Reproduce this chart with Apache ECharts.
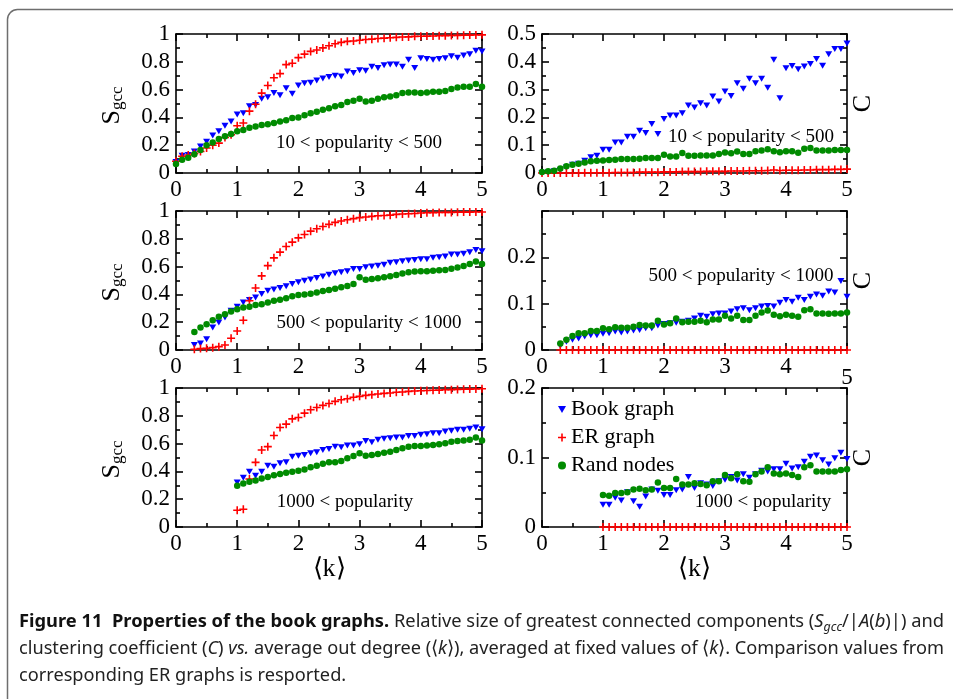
<!DOCTYPE html>
<html>
<head>
<meta charset="utf-8">
<script src="https://cdn.jsdelivr.net/npm/echarts@6/dist/echarts.min.js"></script>
<style>
  html, body { margin: 0; padding: 0; background: #ffffff; }
  #chart { width: 953px; height: 699px; }
</style>
</head>
<body>
<div id="chart"></div>
<script>
// ---- average out degree <k> grids ----
const kFrom0 = [0,0.1,0.2,0.3,0.4,0.5,0.6,0.7,0.8,0.9,1,1.1,1.2,1.3,1.4,1.5,1.6,1.7,1.8,1.9,2,2.1,2.2,2.3,2.4,2.5,2.6,2.7,2.8,2.9,3,3.1,3.2,3.3,3.4,3.5,3.6,3.7,3.8,3.9,4,4.1,4.2,4.3,4.4,4.5,4.6,4.7,4.8,4.9,5];
const kFrom03 = [0.3,0.4,0.5,0.6,0.7,0.8,0.9,1,1.1,1.2,1.3,1.4,1.5,1.6,1.7,1.8,1.9,2,2.1,2.2,2.3,2.4,2.5,2.6,2.7,2.8,2.9,3,3.1,3.2,3.3,3.4,3.5,3.6,3.7,3.8,3.9,4,4.1,4.2,4.3,4.4,4.5,4.6,4.7,4.8,4.9,5];
const kFrom1 = [1,1.1,1.2,1.3,1.4,1.5,1.6,1.7,1.8,1.9,2,2.1,2.2,2.3,2.4,2.5,2.6,2.7,2.8,2.9,3,3.1,3.2,3.3,3.4,3.5,3.6,3.7,3.8,3.9,4,4.1,4.2,4.3,4.4,4.5,4.6,4.7,4.8,4.9,5];

// ---- 10 < popularity < 500 ----
const s1Book = [0.08,0.125,0.13,0.155,0.19,0.225,0.27,0.30,0.34,0.37, 0.42,0.43,0.48,0.49,0.535,0.545,0.575,0.56,0.61,0.57, 0.63,0.645,0.65,0.665,0.68,0.69,0.70,0.695,0.73,0.72, 0.74,0.735,0.765,0.755,0.775,0.78,0.78,0.765,0.815,0.755, 0.825,0.82,0.815,0.82,0.825,0.84,0.83,0.845,0.855,0.88,0.875];
const s1ER = [0.084,0.12,0.13,0.14,0.155,0.18,0.20,0.215,0.255,0.275, 0.34,0.36,0.445,0.495,0.575,0.63,0.685,0.715,0.78,0.79, 0.83,0.855,0.875,0.885,0.90,0.915,0.93,0.94,0.947,0.95, 0.955,0.96,0.963,0.968,0.97,0.973,0.976,0.978,0.979,0.983, 0.984,0.985,0.986,0.987,0.988,0.989,0.99,0.991,0.992,0.993,0.994];
const s1Rand = [0.065,0.095,0.11,0.135,0.165,0.20,0.22,0.245,0.265,0.28, 0.30,0.31,0.325,0.335,0.345,0.35,0.36,0.37,0.38,0.395, 0.40,0.415,0.43,0.44,0.455,0.465,0.48,0.49,0.51,0.52, 0.535,0.515,0.52,0.535,0.545,0.55,0.56,0.575,0.58,0.58, 0.575,0.58,0.585,0.585,0.59,0.605,0.615,0.62,0.62,0.64,0.62];
const c1Book = [0,0.002,0.006,0.01,0.02,0.03,0.033,0.044,0.057,0.062, 0.084,0.084,0.11,0.11,0.13,0.13,0.152,0.144,0.176,0.14, 0.194,0.207,0.207,0.215,0.243,0.236,0.251,0.243,0.275,0.257, 0.293,0.277,0.323,0.303,0.339,0.323,0.339,0.307,0.407,0.269, 0.377,0.385,0.373,0.383,0.392,0.41,0.386,0.427,0.446,0.446,0.466];
const c1ER = [0,0,0,0,0,0,0,0.001,0.001,0.001, 0.001,0.001,0.002,0.002,0.002,0.002,0.003,0.003,0.003,0.003, 0.004,0.004,0.004,0.005,0.005,0.005,0.005,0.006,0.006,0.006, 0.006,0.007,0.007,0.007,0.008,0.008,0.008,0.009,0.011,0.009, 0.01,0.01,0.01,0.011,0.011,0.012,0.012,0.012,0.013,0.013,0.014];
const c1Rand = [0.004,0.006,0.008,0.016,0.024,0.03,0.033,0.038,0.042,0.044, 0.045,0.047,0.048,0.05,0.05,0.05,0.051,0.054,0.054,0.054, 0.066,0.059,0.059,0.072,0.062,0.062,0.063,0.063,0.063,0.068, 0.074,0.071,0.077,0.068,0.068,0.078,0.081,0.085,0.078,0.075, 0.078,0.078,0.073,0.087,0.09,0.081,0.081,0.081,0.083,0.083,0.083];

// ---- 500 < popularity < 1000 ----
const s2Book = [0.036,0.046,0.077,0.161,0.198,0.234,0.282, 0.311,0.342,0.359,0.378,0.402,0.427,0.436,0.446,0.458,0.475, 0.487,0.499,0.508,0.518,0.528,0.542,0.552,0.559,0.566,0.583, 0.583,0.595,0.6,0.607,0.614,0.627,0.631,0.639,0.643,0.648, 0.653,0.653,0.663,0.667,0.672,0.687,0.687,0.692,0.704,0.72, 0.711];
const s2ER = [0.005,0.01,0.012,0.017,0.024,0.036,0.084, 0.137,0.214,0.354,0.446,0.533,0.607,0.663,0.704,0.745,0.776, 0.807,0.831,0.855,0.872,0.889,0.904,0.918,0.928,0.937,0.945, 0.952,0.957,0.961,0.966,0.968,0.97,0.976,0.978,0.98,0.982, 0.986,0.987,0.988,0.989,0.99,0.99,0.991,0.992,0.992,0.993, 0.993];
const s2Rand = [0.13,0.161,0.186,0.214,0.239,0.258,0.277, 0.294,0.306,0.311,0.323,0.33,0.342,0.354,0.361,0.373,0.386, 0.395,0.40,0.405,0.414,0.425,0.431,0.44,0.452,0.46,0.475, 0.523,0.506,0.51,0.516,0.523,0.53,0.54,0.55,0.56,0.564, 0.566,0.566,0.57,0.573,0.576,0.585,0.593,0.605,0.619,0.636, 0.619];
const c2Book = [0.009,0.018,0.022,0.025,0.029,0.032,0.032, 0.035,0.036,0.04,0.038,0.04,0.042,0.043,0.047,0.047,0.053, 0.056,0.058,0.059,0.061,0.063,0.068,0.074,0.072,0.077,0.079, 0.079,0.083,0.088,0.09,0.086,0.09,0.094,0.095,0.094,0.102, 0.108,0.104,0.113,0.108,0.115,0.12,0.117,0.126,0.124,0.149, 0.115];
const c2ER = [0,0,0,0,0,0,0, 0,0,0,0,0,0,0,0,0,0, 0,0,0,0,0,0,0,0,0,0, 0,0,0,0,0,0,0,0,0,0, 0,0,0,0,0,0,0,0,0,0, 0];
const c2Rand = [0.014,0.022,0.03,0.036,0.036,0.041,0.041, 0.047,0.045,0.049,0.048,0.048,0.05,0.054,0.053,0.053,0.063, 0.055,0.058,0.068,0.06,0.061,0.061,0.063,0.06,0.066,0.066, 0.074,0.068,0.074,0.065,0.065,0.074,0.081,0.085,0.076,0.073, 0.076,0.074,0.072,0.086,0.088,0.079,0.079,0.078,0.079,0.079, 0.081];

// ---- 1000 < popularity ----
const s3Book = [0.32,0.354,0.398,0.369,0.398,0.441,0.434,0.458,0.465,0.506, 0.513,0.518,0.53,0.537,0.554,0.561,0.578,0.573,0.586,0.586, 0.595,0.619,0.61,0.627,0.634,0.639,0.643,0.643,0.655,0.655, 0.663,0.667,0.675,0.675,0.687,0.692,0.699,0.699,0.706,0.716, 0.704];
const s3ER = [0.12,0.128,0.345,0.465,0.554,0.578,0.658,0.716,0.74,0.778, 0.788,0.819,0.843,0.86,0.875,0.889,0.904,0.916,0.923,0.933, 0.94,0.947,0.952,0.957,0.961,0.964,0.969,0.971,0.976,0.978, 0.98,0.982,0.984,0.985,0.987,0.988,0.99,0.991,0.992,0.993, 0.995];
const s3Rand = [0.296,0.313,0.325,0.335,0.349,0.359,0.373,0.381,0.39,0.398, 0.405,0.414,0.429,0.441,0.455,0.465,0.465,0.475,0.494,0.511, 0.53,0.513,0.518,0.525,0.535,0.542,0.554,0.566,0.578,0.583, 0.583,0.586,0.59,0.595,0.602,0.614,0.619,0.622,0.627,0.643, 0.622];
const c3Book = [0.032,0.032,0.042,0.038,0.05,0.037,0.029,0.044,0.054,0.052, 0.046,0.046,0.053,0.054,0.072,0.056,0.063,0.061,0.059,0.066, 0.068,0.072,0.067,0.076,0.071,0.076,0.081,0.08,0.083,0.083, 0.091,0.084,0.086,0.094,0.101,0.103,0.096,0.09,0.099,0.107, 0.098];
const c3ER = [0,0,0,0,0,0,0,0,0,0, 0,0,0,0,0,0,0,0,0,0, 0,0,0,0,0,0,0,0,0,0, 0,0,0,0,0,0,0,0,0,0, 0];
const c3Rand = [0.046,0.045,0.049,0.049,0.05,0.054,0.055,0.053,0.054,0.064, 0.056,0.056,0.069,0.061,0.061,0.063,0.062,0.06,0.066,0.066, 0.075,0.07,0.076,0.066,0.065,0.076,0.08,0.086,0.077,0.076, 0.077,0.075,0.072,0.086,0.089,0.08,0.08,0.08,0.08,0.082, 0.083];

// ---- labels ----
const seriesNames = ['Book graph', 'ER graph', 'Rand nodes'];
const xTickLabels = ['0', '1', '2', '3', '4', '5'];
const panelNotes = ['10 < popularity < 500', '10 < popularity < 500',
                    '500 < popularity < 1000', '500 < popularity < 1000',
                    '1000 < popularity', '1000 < popularity'];

// ---- panel definitions (data refs + y scale) ----
const panels = [
  { k: kFrom0,  book: s1Book, er: s1ER, rand: s1Rand, yMax: 1,   yStep: 0.2 },
  { k: kFrom0,  book: c1Book, er: c1ER, rand: c1Rand, yMax: 0.5, yStep: 0.1 },
  { k: kFrom03, book: s2Book, er: s2ER, rand: s2Rand, yMax: 1,   yStep: 0.2 },
  { k: kFrom03, book: c2Book, er: c2ER, rand: c2Rand, yMax: 0.3, yStep: 0.1, hideTop: true, lowFive: true },
  { k: kFrom1,  book: s3Book, er: s3ER, rand: s3Rand, yMax: 1,   yStep: 0.2 },
  { k: kFrom1,  book: c3Book, er: c3ER, rand: c3Rand, yMax: 0.2, yStep: 0.1 }
];

// ---- layout ----
const gridBoxes = [
  { left: 176, top: 34,  width: 306, height: 139 },
  { left: 542, top: 34,  width: 305, height: 139 },
  { left: 176, top: 211, width: 306, height: 139 },
  { left: 542, top: 211, width: 305, height: 139 },
  { left: 176, top: 388, width: 306, height: 139 },
  { left: 542, top: 388, width: 305, height: 139 }
];
const notePos = [[359, 143], [751, 137], [369, 323], [741, 276], [345, 502], [763, 502]];

const SERIF = '"Liberation Serif", "Times New Roman", serif';
const SANS = '"Noto Sans", "Open Sans", sans-serif';
const TICK_FONT = 23;
const colors = ['#0000ff', '#ff0000', '#008b00'];
const symbols = [
  'path://M0,0L10,0L5,8.66Z',
  'path://M4,0H6V4H10V6H6V10H4V6H0V4H4Z',
  'circle'
];
const symbolSizes = [[7, 6], 8, 6.5];

const frameLine = { color: '#000', width: 1.6 };

function xAxisFor(i, position) {
  const p = panels[i];
  return {
    gridIndex: i, type: 'value', position, min: 0, max: 5, interval: 1,
    axisLine: { show: true, onZero: false, lineStyle: frameLine },
    axisTick: { show: true, inside: true, length: 7, lineStyle: frameLine },
    minorTick: { show: true, splitNumber: 2, length: 4, lineStyle: frameLine },
    splitLine: { show: false }, minorSplitLine: { show: false },
    axisLabel: {
      show: position === 'bottom', margin: 5, color: '#000',
      fontFamily: SERIF, fontSize: TICK_FONT,
      formatter: v => {
        const t = xTickLabels[Math.round(v)];
        return (p.lowFive && Math.round(v) === 5) ? '{low|' + t + '}' : t;
      },
      rich: { low: { fontFamily: SERIF, fontSize: TICK_FONT, color: '#000', padding: [11, 0, 0, 0] } }
    }
  };
}
function yAxisFor(i, position) {
  const p = panels[i];
  return {
    gridIndex: i, type: 'value', position, min: 0, max: p.yMax, interval: p.yStep,
    axisLine: { show: true, onZero: false, lineStyle: frameLine },
    axisTick: { show: true, inside: true, length: 7, lineStyle: frameLine },
    minorTick: { show: true, splitNumber: 2, length: 4, lineStyle: frameLine },
    splitLine: { show: false }, minorSplitLine: { show: false },
    axisLabel: {
      show: position === 'left', margin: 6, color: '#000',
      fontFamily: SERIF, fontSize: TICK_FONT,
      showMaxLabel: !p.hideTop,
      formatter: v => String(+v.toFixed(2))
    }
  };
}

const grid = [], xAxis = [], yAxis = [], series = [];
panels.forEach((p, i) => {
  grid.push(Object.assign({ outerBoundsMode: 'none', containLabel: false }, gridBoxes[i]));
  xAxis.push(xAxisFor(i, 'bottom'), xAxisFor(i, 'top'));
  yAxis.push(yAxisFor(i, 'left'), yAxisFor(i, 'right'));
  [p.book, p.er, p.rand].forEach((vals, s) => {
    series.push({
      type: 'scatter', name: seriesNames[s],
      xAxisIndex: 2 * i, yAxisIndex: 2 * i,
      data: p.k.map((k, j) => [k, vals[j]]),
      symbol: symbols[s], symbolSize: symbolSizes[s],
      itemStyle: { color: colors[s], opacity: 1 },
      clip: false, silent: true
    });
  });
});

// ---- text elements ----
const graphics = [];
// rounded frame around figure and caption
graphics.push({
  type: 'rect', shape: { x: 7.5, y: 9.5, width: 1000, height: 760, r: 10 },
  style: { fill: 'none', stroke: '#6e6e6e', lineWidth: 1.5 }, silent: true
});
panelNotes.forEach((t, i) => {
  graphics.push({ type: 'text', x: notePos[i][0], y: notePos[i][1],
    style: { text: t, fontFamily: SERIF, fontSize: 19, fill: '#000', align: 'center', verticalAlign: 'middle' } });
});
[0, 2, 4].forEach(i => {
  const g = gridBoxes[i];
  graphics.push({ type: 'text', x: 112, y: g.top + g.height / 2 + 2, rotation: Math.PI / 2,
    style: { text: '{s|S}{g|gcc}', align: 'center', verticalAlign: 'middle',
      rich: {
        s: { fontFamily: SERIF, fontSize: 26, lineHeight: 28, fill: '#000' },
        g: { fontFamily: SERIF, fontSize: 17, lineHeight: 17, fill: '#000', verticalAlign: 'bottom' }
      } } });
});
[1, 3, 5].forEach(i => {
  const g = gridBoxes[i];
  graphics.push({ type: 'text', x: 863, y: g.top + g.height / 2, rotation: Math.PI / 2,
    style: { text: 'C', fontFamily: SERIF, fontSize: 26, fill: '#000', align: 'center', verticalAlign: 'middle' } });
});
[4, 5].forEach(i => {
  const g = gridBoxes[i];
  graphics.push({ type: 'text', x: g.left + g.width / 2, y: 569,
    style: { text: '\u27E8k\u27E9', fontFamily: SERIF, fontSize: 26, fill: '#000', align: 'center', verticalAlign: 'middle' } });
});

// ---- caption ----
const CAP = 18.5;
const capFonts = {
  b: 'bold ' + CAP + 'px ' + SANS,
  n: CAP + 'px ' + SANS,
  i: 'italic ' + CAP + 'px ' + SANS,
  sub: 'italic ' + (CAP * 0.68) + 'px ' + SANS
};
const capRich = {
  b: { fontFamily: SANS, fontSize: CAP, fontWeight: 'bold', fill: '#111', lineHeight: 24 },
  n: { fontFamily: SANS, fontSize: CAP, fill: '#222', lineHeight: 24 },
  i: { fontFamily: SANS, fontSize: CAP, fontStyle: 'italic', fill: '#222', lineHeight: 24 },
  sub: { fontFamily: SANS, fontSize: CAP * 0.68, fontStyle: 'italic', fill: '#222', lineHeight: 14, verticalAlign: 'bottom' }
};
const captionLines = [
  [['b', 'Figure 11  Properties of the book graphs.'], ['n', ' Relative size of greatest connected components ('],
   ['i', 'S'], ['sub', 'gcc'], ['n', '/|'], ['i', 'A'], ['n', '('], ['i', 'b'], ['n', ')|) and']],
  [['n', 'clustering coefficient ('], ['i', 'C'], ['n', ') '], ['i', 'vs.'], ['n', ' average out degree (\u27E8'],
   ['i', 'k'], ['n', '\u27E9), averaged at fixed values of \u27E8'], ['i', 'k'], ['n', '\u27E9. Comparison values from']],
  [['n', 'corresponding ER graphs is resported.']]
];
const captionY = [622, 649, 676];
const measureCtx = document.createElement('canvas').getContext('2d');
function lineWidth(segs) {
  let w = 0;
  segs.forEach(([st, t]) => { measureCtx.font = capFonts[st]; w += measureCtx.measureText(t).width; });
  return w;
}
const captionLeft = 19, captionRight = 944;
const scales = captionLines.map(l => (captionRight - captionLeft) / lineWidth(l));
scales[2] = scales[1];
captionLines.forEach((segs, li) => {
  graphics.push({
    type: 'text', x: captionLeft, y: captionY[li], scaleX: scales[li], scaleY: 1,
    style: {
      text: segs.map(([st, t]) => '{' + st + '|' + t + '}').join(''),
      rich: capRich, align: 'left', verticalAlign: 'middle'
    }
  });
});

const chart = echarts.init(document.getElementById('chart'), null, { renderer: 'canvas' });
chart.setOption({
  animation: false,
  backgroundColor: '#ffffff',
  grid, xAxis, yAxis, series,
  legend: {
    data: seriesNames, orient: 'vertical', left: 553, top: 393,
    itemWidth: 8, itemHeight: 8, itemGap: 5, selectedMode: false,
    textStyle: { fontFamily: SERIF, fontSize: 22, color: '#000', lineHeight: 23 }
  },
  graphic: graphics
});
</script>
</body>
</html>
